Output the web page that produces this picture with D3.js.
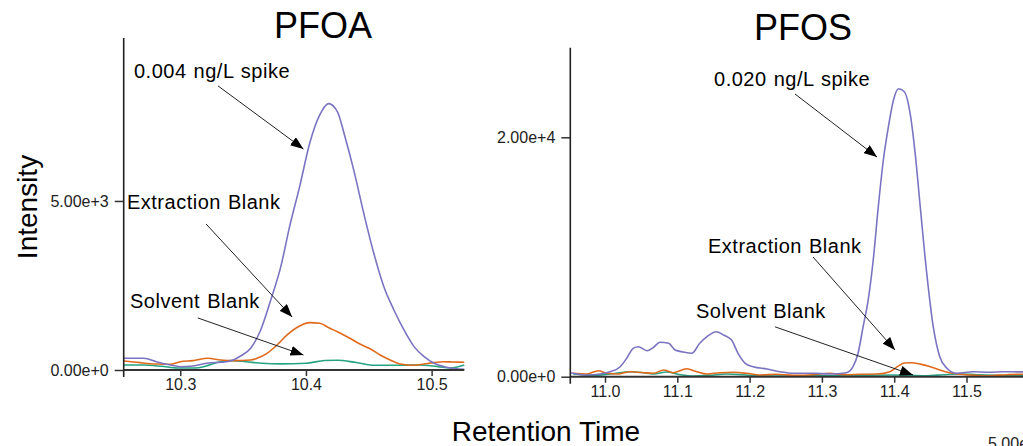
<!DOCTYPE html>
<html>
<head>
<meta charset="utf-8">
<script src="https://cdn.jsdelivr.net/npm/d3@7"></script>
<style>
  html, body { margin: 0; padding: 0; background: #fff; overflow: hidden; }
  svg { display: block; font-family: 'Liberation Sans', Arial, sans-serif; }
  .axis text { font-family: 'Liberation Sans', Arial, sans-serif; font-size: 16px; fill: #222; }
  .axis line { stroke: #333; stroke-width: 1.5px; }
  .note { font-size: 20px; fill: #000; letter-spacing: 0.5px; word-spacing: 1px; }
</style>
</head>
<body>
<div id="chart"></div>
<script>
// --- data: [retention time (min), intensity] ---
const pfoaSpike = [[10.255,346],[10.271,346],[10.281,246],[10.292,148],[10.300,98],[10.310,118],[10.321,198],
  [10.337,246],[10.342,296],[10.348,414],[10.356,642],[10.364,1184],[10.372,2071],[10.380,3058],[10.387,4241],
  [10.395,5425],[10.403,6708],[10.411,7546],[10.418,7880],[10.425,7644],[10.431,6905],[10.438,5918],[10.446,4636],
  [10.454,3452],[10.462,2465],[10.470,1775],[10.478,1184],[10.486,691],[10.494,393],[10.502,198],[10.512,80],[10.526,20]];
const pfoaExtraction = [[10.255,266],[10.268,217],[10.281,178],[10.292,168],[10.300,246],[10.310,276],[10.322,346],
  [10.332,296],[10.342,276],[10.356,296],[10.361,346],[10.369,494],[10.377,740],[10.385,1036],[10.395,1302],
  [10.403,1400],[10.411,1382],[10.419,1234],[10.425,1134],[10.435,938],[10.443,769],[10.451,630],[10.459,444],
  [10.467,296],[10.475,178],[10.486,139],[10.494,178],[10.502,217],[10.509,246],[10.517,237],[10.526,228]];
const pfoaSolvent = [[10.255,148],[10.270,148],[10.285,110],[10.298,60],[10.312,60],[10.320,110],[10.332,246],
  [10.342,276],[10.352,246],[10.365,200],[10.380,180],[10.400,200],[10.415,280],[10.425,290],[10.440,220],
  [10.455,140],[10.470,140],[10.490,150],[10.505,100],[10.515,60],[10.526,150]];

const pfosSpike = [[10.952,334],[10.975,142],[10.993,226],[11.007,418],[11.021,835],[11.030,1537],[11.039,2372],
  [11.046,2506],[11.058,2172],[11.067,2456],[11.076,2874],[11.088,2790],[11.097,2230],[11.108,2063],[11.120,1955],
  [11.131,2790],[11.141,3342],[11.154,3759],[11.164,3484],[11.175,3066],[11.184,1955],[11.194,1119],[11.205,835],
  [11.224,643],[11.242,418],[11.260,284],[11.288,284],[11.311,226],[11.334,334],[11.343,835],[11.350,1955],
  [11.357,4177],[11.364,6407],[11.371,9749],[11.378,14202],[11.385,18103],[11.392,20885],[11.399,23115],
  [11.406,24050],[11.414,23809],[11.422,22004],[11.429,18663],[11.436,14202],[11.445,8638],[11.454,4177],
  [11.463,1671],[11.473,702],[11.486,284],[11.509,418],[11.532,368],[11.550,418],[11.578,400],[11.600,400]];
const pfosExtraction = [[10.956,284],[10.975,226],[10.991,501],[11.002,284],[11.018,226],[11.035,418],[11.053,334],
  [11.067,284],[11.081,560],[11.094,334],[11.113,668],[11.127,418],[11.141,226],[11.159,334],[11.178,368],
  [11.196,284],[11.214,142],[11.237,200],[11.260,117],[11.288,167],[11.311,284],[11.330,167],[11.353,200],
  [11.376,226],[11.394,420],[11.406,900],[11.414,1150],[11.424,1160],[11.436,1050],[11.449,850],[11.463,560],
  [11.477,330],[11.491,200],[11.505,142],[11.528,84],[11.556,167],[11.578,200],[11.600,200]];
const pfosSolvent = [[10.956,226],[10.984,117],[11.007,226],[11.035,418],[11.053,334],[11.067,226],[11.085,393],
  [11.104,167],[11.122,58],[11.145,117],[11.168,226],[11.191,167],[11.214,58],[11.260,58],[11.307,84],
  [11.353,117],[11.399,142],[11.422,117],[11.445,84],[11.468,167],[11.491,226],[11.514,167],[11.537,117],
  [11.578,84],[11.600,84]];

const pfoaXTicks = [10.3, 10.4, 10.5];
const pfoaYTicks = [0, 5000];
const pfosXTicks = [11.0, 11.1, 11.2, 11.3, 11.4, 11.5];
const pfosYTicks = [0, 20000];

// annotations: label, text anchor [t, v], arrow from [t, v] to [t, v]
const pfoaNotes = [
  { text: '0.004 ng/L spike', at: [10.2632, 8640], from: [10.330, 8404], to: [10.398, 6539] },
  { text: 'Extraction Blank', at: [10.2576, 4764], from: [10.3205, 4320], to: [10.389, 1568] },
  { text: 'Solvent Blank',    at: [10.2600, 1835], from: [10.314, 1539], to: [10.398, 444] }
];
const pfosNotes = [
  { text: '0.020 ng/L spike', at: [11.1508, 24285], from: [11.2628, 23617], to: [11.3762, 18354] },
  { text: 'Extraction Blank', at: [11.1425, 10334], from: [11.2877, 10000], to: [11.4011, 2231] },
  { text: 'Solvent Blank',    at: [11.1259, 4904],  from: [11.2351, 4168],  to: [11.426, 142] }
];

const colour = { spike: '#7b74c2', extraction: '#e06a1c', solvent: '#27a383' };

const width = 1023, height = 446;

const $svg = d3.select('#chart').append('svg')
  .attr('width', width)
  .attr('height', height);

$svg.append('defs').append('marker')
  .attr('id', 'arrow')
  .attr('markerUnits', 'userSpaceOnUse')
  .attr('viewBox', '0 0 13 10')
  .attr('refX', 13).attr('refY', 5)
  .attr('markerWidth', 13).attr('markerHeight', 10)
  .attr('orient', 'auto')
  .append('path')
  .attr('d', 'M0,0 L13,5 L0,10 Z')
  .attr('fill', '#000');

function panel(cfg) {
  const x = d3.scaleLinear().domain(cfg.xDomain).range(cfg.xRange);
  const y = d3.scaleLinear().domain(cfg.yDomain).range(cfg.yRange);
  const $g = $svg.append('g');

  const line = d3.line()
    .x(d => x(d[0]))
    .y(d => y(d[1]))
    .curve(d3.curveMonotoneX);

  cfg.series.forEach(s => {
    $g.append('path')
      .datum(s.values)
      .attr('d', line)
      .attr('fill', 'none')
      .attr('stroke', s.colour)
      .attr('stroke-width', 1.6);
  });

  // x axis
  $g.append('g')
    .attr('class', 'axis x')
    .attr('transform', `translate(0, ${y(0)})`)
    .call(d3.axisBottom(x).tickValues(cfg.xTicks).tickFormat(d3.format('.1f')).tickSize(6).tickPadding(3).tickSizeOuter(0))
    .select('.domain').remove();

  // y axis
  $g.append('g')
    .attr('class', 'axis y')
    .attr('transform', `translate(${x(cfg.xDomain[0])}, 0)`)
    .call(d3.axisLeft(y).tickValues(cfg.yTicks).tickFormat(d3.format('.2e')).tickSize(9).tickPadding(6).tickSizeOuter(0))
    .select('.domain').remove();

  const x0 = x(cfg.xDomain[0]);
  $g.append('line')
    .attr('x1', x0).attr('x2', x(cfg.xDomain[1]))
    .attr('y1', y(0)).attr('y2', y(0))
    .attr('stroke', '#333').attr('stroke-width', 2);
  $g.append('line')
    .attr('x1', x0).attr('x2', x0)
    .attr('y1', y(cfg.yDomain[1])).attr('y2', y(0) + 7)
    .attr('stroke', '#222').attr('stroke-width', 1.6);

  // annotations
  const $notes = $g.selectAll('.note-g')
    .data(cfg.notes)
    .enter()
    .append('g');

  $notes.append('text')
    .attr('class', 'note')
    .attr('x', d => x(d.at[0]))
    .attr('y', d => y(d.at[1]))
    .text(d => d.text);

  $notes.append('line')
    .attr('x1', d => x(d.from[0]))
    .attr('y1', d => y(d.from[1]))
    .attr('x2', d => x(d.to[0]))
    .attr('y2', d => y(d.to[1]))
    .attr('stroke', '#222')
    .attr('stroke-width', 1)
    .attr('marker-end', 'url(#arrow)');

  $g.append('text')
    .attr('x', cfg.titleX)
    .attr('y', cfg.titleY)
    .attr('text-anchor', 'middle')
    .attr('font-size', 36)
    .text(cfg.title);
}

panel({
  title: 'PFOA', titleX: 323, titleY: 38,
  xDomain: [10.255, 10.526], xRange: [123.7, 464.3],
  yDomain: [0, 9820], yRange: [370, 38],
  xTicks: pfoaXTicks, yTicks: pfoaYTicks,
  series: [
    { values: pfoaSolvent, colour: colour.solvent },
    { values: pfoaExtraction, colour: colour.extraction },
    { values: pfoaSpike, colour: colour.spike }
  ],
  notes: pfoaNotes
});

panel({
  title: 'PFOS', titleX: 803, titleY: 40,
  xDomain: [10.952, 11.60], xRange: [570.3, 570.3 + 0.648 * 723],
  yDomain: [0, 27485], yRange: [376.7, 47.7],
  xTicks: pfosXTicks, yTicks: pfosYTicks,
  series: [
    { values: pfosSolvent, colour: colour.solvent },
    { values: pfosExtraction, colour: colour.extraction },
    { values: pfosSpike, colour: colour.spike }
  ],
  notes: pfosNotes
});

// shared axis titles
$svg.append('text')
  .attr('transform', 'translate(37, 207) rotate(-90)')
  .attr('text-anchor', 'middle')
  .attr('font-size', 28)
  .text('Intensity');

$svg.append('text')
  .attr('x', 546)
  .attr('y', 441)
  .attr('text-anchor', 'middle')
  .attr('font-size', 28)
  .text('Retention Time');

// edge of the next panel's tick label, cut by the frame
$svg.append('text')
  .attr('x', 988)
  .attr('y', 449)
  .attr('font-size', 16)
  .attr('fill', '#222')
  .text('5.00e+3');
</script>
</body>
</html>
